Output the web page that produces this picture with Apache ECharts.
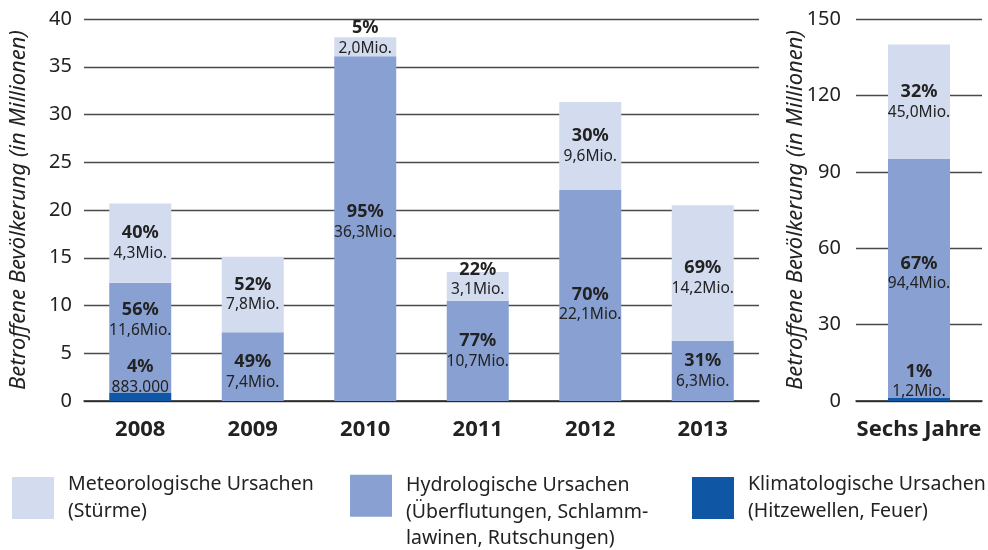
<!DOCTYPE html>
<html>
<head>
<meta charset="utf-8">
<script src="https://cdn.jsdelivr.net/npm/echarts@6/dist/echarts.min.js"></script>
<style>
    html, body { margin: 0; padding: 0; background: #fff; }
    #chart { width: 988px; height: 550px; }
</style>
</head>
<body>
<div id="chart"></div>
<script>
// Jahre
var years = ['2008', '2009', '2010', '2011', '2012', '2013'];
var meteo = [8.3, 7.9, 2.0, 3.0, 9.2, 14.2];
var hydro = [11.5, 7.2, 36.1, 10.5, 22.1, 6.3];
var klima = [0.88, 0, 0, 0, 0, 0];

var meteoPct = ['40%', '52%', '5%', '22%', '30%', '69%'];
var meteoMio = ['4,3Mio.', '7,8Mio.', '2,0Mio.', '3,1Mio.', '9,6Mio.', '14,2Mio.'];
var hydroPct = ['56%', '49%', '95%', '77%', '70%', '31%'];
var hydroMio = ['11,6Mio.', '7,4Mio.', '36,3Mio.', '10,7Mio.', '22,1Mio.', '6,3Mio.'];
var klimaPct = ['4%', '', '', '', '', ''];
var klimaMio = ['883.000', '', '', '', '', ''];

// Sechs Jahre
var totalCat = ['Sechs Jahre'];
var totalMeteo = [45.0];
var totalHydro = [93.8];
var totalKlima = [1.2];
var totalMeteoPct = ['32%'], totalMeteoMio = ['45,0Mio.'];
var totalHydroPct = ['67%'], totalHydroMio = ['94,4Mio.'];
var totalKlimaPct = ['1%'], totalKlimaMio = ['1,2Mio.'];

// label shifts (px)
var meteoShift = [0, 0, -9, -7, 0, 5];
var hydroShift = [-18, 5, -7, 0, 9, 0];
var klimaShift = [-20, 0, 0, 0, 0, 0];

var C_METEO = '#d3dbef', C_HYDRO = '#89a0d2', C_KLIMA = '#0f56a5';
var FONT = 'Noto Sans';

var dom = document.getElementById('chart');
var myChart = echarts.init(dom);

var rich = {
    p: { fontFamily: FONT, fontSize: 18, fontWeight: 'bold', color: '#222', lineHeight: 21 },
    m: { fontFamily: FONT, fontSize: 15.5, color: '#222', lineHeight: 20 }
};

function makeData(values, pct, mio, shift) {
    var out = [];
    for (var i = 0; i < values.length; i++) {
        out.push({
            value: values[i],
            label: {
                show: pct[i] !== '',
                offset: [0, shift ? shift[i] : 0],
                formatter: '{p|' + pct[i] + '}\n{m|' + mio[i] + '}'
            }
        });
    }
    return out;
}

function barSeries(name, color, axis, stack, data) {
    return {
        name: name,
        type: 'bar',
        stack: stack,
        xAxisIndex: axis,
        yAxisIndex: axis,
        barWidth: 62,
        itemStyle: { color: color },
        label: { show: true, position: 'inside', rich: rich },
        data: data
    };
}

var yName = 'Betroffene Bevölkerung (in Millionen)';
var yNameStyle = { fontFamily: FONT, fontSize: 22, fontStyle: 'italic', color: '#222' };
var gridLine = { lineStyle: { color: '#4a4a4a', width: 1.3 } };
var catLabel = { fontFamily: FONT, fontSize: 22, fontWeight: 'bold', color: '#222', margin: 18 };
var legendText = { fontFamily: FONT, fontSize: 19.5, color: '#222', lineHeight: 27, padding: [0, 0, 0, 9] };

var option = {
    animation: false,
    backgroundColor: '#fff',
    grid: [
        { left: 80, top: 19, width: 679, height: 382 },
        { left: 856, top: 19, width: 126, height: 382 }
    ],
    xAxis: [
        {
            type: 'category', gridIndex: 0, data: years,
            axisLine: { lineStyle: { color: '#222', width: 1.5 } },
            axisTick: { show: false },
            axisLabel: catLabel
        },
        {
            type: 'category', gridIndex: 1, data: totalCat,
            axisLine: { lineStyle: { color: '#222', width: 1.5 } },
            axisTick: { show: false },
            axisLabel: catLabel
        }
    ],
    yAxis: [
        {
            type: 'value', gridIndex: 0, min: 0, max: 40, interval: 5,
            name: yName, nameLocation: 'middle', nameGap: 54, nameMoveOverlap: false,
            nameTextStyle: yNameStyle,
            axisLine: { show: false }, axisTick: { show: false },
            splitLine: gridLine,
            axisLabel: { fontFamily: FONT, fontSize: 20, color: '#222', margin: 12 }
        },
        {
            type: 'value', gridIndex: 1, min: 0, max: 150, interval: 30,
            name: yName, nameLocation: 'middle', nameGap: 49, nameMoveOverlap: false,
            nameTextStyle: yNameStyle,
            axisLine: { show: false }, axisTick: { show: false },
            splitLine: gridLine,
            axisLabel: { fontFamily: FONT, fontSize: 20, color: '#222', margin: 15 }
        }
    ],
    legend: [
        {
            left: 12, top: 471, padding: 0, itemWidth: 42, itemHeight: 42, selectedMode: false, icon: 'rect',
            data: ['Meteorologische Ursachen'],
            formatter: 'Meteorologische Ursachen\n(Stürme)',
            textStyle: legendText
        },
        {
            left: 350, top: 451, padding: 0, itemWidth: 42, itemHeight: 42, selectedMode: false, icon: 'rect',
            data: ['Hydrologische Ursachen'],
            formatter: '{s| }\n{t|Hydrologische Ursachen}\n{t|(Überflutungen, Schlamm-}\n{t|lawinen, Rutschungen)}',
            textStyle: {
                fontFamily: FONT, fontSize: 19.5, color: '#222', padding: [0, 0, 0, 9],
                rich: {
                    s: { fontSize: 10, lineHeight: 33 },
                    t: { fontFamily: FONT, fontSize: 19.5, color: '#222', lineHeight: 26.5 }
                }
            }
        },
        {
            left: 692, top: 471, padding: 0, itemWidth: 42, itemHeight: 42, selectedMode: false, icon: 'rect',
            data: ['Klimatologische Ursachen'],
            formatter: 'Klimatologische Ursachen\n(Hitzewellen, Feuer)',
            textStyle: legendText
        }
    ],
    series: [
        barSeries('Klimatologische Ursachen', C_KLIMA, 0, 'a', makeData(klima, klimaPct, klimaMio, klimaShift)),
        barSeries('Hydrologische Ursachen', C_HYDRO, 0, 'a', makeData(hydro, hydroPct, hydroMio, hydroShift)),
        barSeries('Meteorologische Ursachen', C_METEO, 0, 'a', makeData(meteo, meteoPct, meteoMio, meteoShift)),
        barSeries('Klimatologische Ursachen', C_KLIMA, 1, 'b', makeData(totalKlima, totalKlimaPct, totalKlimaMio, [-18])),
        barSeries('Hydrologische Ursachen', C_HYDRO, 1, 'b', makeData(totalHydro, totalHydroPct, totalHydroMio, [-5])),
        barSeries('Meteorologische Ursachen', C_METEO, 1, 'b', makeData(totalMeteo, totalMeteoPct, totalMeteoMio, [0]))
    ]
};

myChart.setOption(option);

window.onresize = function() {
    myChart.resize();
};
</script>
</body>
</html>
